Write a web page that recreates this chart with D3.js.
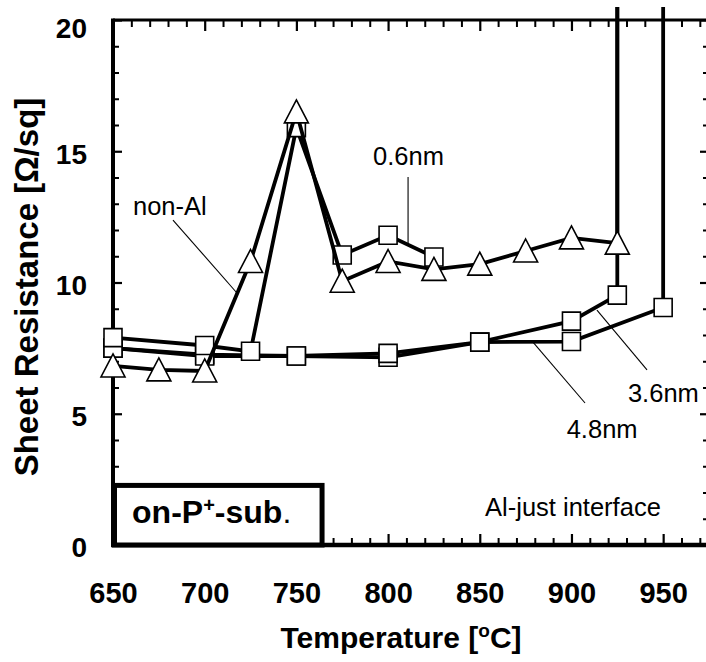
<!DOCTYPE html>
<html>
<head>
<meta charset="utf-8">
<script src="https://cdn.jsdelivr.net/npm/d3@7"></script>
<style>
  html, body { margin: 0; padding: 0; background: #fff; }
  svg { display: block; font-family: "Liberation Sans", Arial, Helvetica, sans-serif; }
</style>
</head>
<body>
<svg id="chart" width="706" height="662"></svg>
<script>
// ---------- data ----------
const xTickLabels = [650, 700, 750, 800, 850, 900, 950];
const yTickLabels = [0, 5, 10, 15, 20];

// non-Al (triangles); last point is off-scale (vertical rise)
const nonAlTemp = [650, 675, 700, 725, 750, 775, 800, 825, 850, 875, 900, 925, 925];
const nonAlRes  = [6.82, 6.67, 6.63, 10.8, 16.5, 10.05, 10.8, 10.5, 10.7, 11.2, 11.7, 11.5, 20.5];

// 0.6 nm Al (squares)
const al06Temp = [650, 700, 725, 750, 775, 800, 825];
const al06Res  = [7.9, 7.6, 7.38, 15.9, 11.05, 11.8, 10.97];

// 3.6 nm Al (squares)
const al36Temp = [650, 700, 750, 800, 850, 900, 925, 925];
const al36Res  = [7.5, 7.2, 7.2, 7.3, 7.73, 8.53, 9.52, 20.5];

// 4.8 nm Al (squares)
const al48Temp = [650, 700, 750, 800, 850, 900, 950, 950];
const al48Res  = [7.5, 7.25, 7.2, 7.15, 7.73, 7.75, 9.05, 20.5];

// ---------- layout ----------
const svg = d3.select("#chart");
const x = d3.scaleLinear().domain([650, 975]).range([113, 709]);
const y = d3.scaleLinear().domain([0, 20]).range([545, 20]);
const [x0, x1] = x.range();
const [y0, y1] = y.range();

const xMinor = d3.range(650, 976, 10).filter(v => v % 50 !== 0);
const yMinor = d3.range(0, 21, 1).filter(v => v % 5 !== 0);

function styleTicks(g, w) {
  g.select(".domain").remove();
  g.selectAll("line").attr("stroke", "#000").attr("stroke-width", w);
}

// bottom
svg.append("g").attr("transform", `translate(0,${y0})`)
  .call(d3.axisBottom(x).tickValues(xMinor).tickSize(-7).tickSizeOuter(0).tickFormat(""))
  .call(g => styleTicks(g, 2));
const bx = svg.append("g").attr("transform", `translate(0,${y0})`)
  .call(d3.axisBottom(x).tickValues(xTickLabels).tickSize(-11).tickSizeOuter(0).tickPadding(37))
  .call(g => styleTicks(g, 2.2));
bx.selectAll("text").attr("font-size", 29).attr("font-weight", "bold").attr("fill", "#000");

// top
svg.append("g").attr("transform", `translate(0,${y1})`)
  .call(d3.axisTop(x).tickValues(xMinor).tickSize(-7).tickSizeOuter(0).tickFormat(""))
  .call(g => styleTicks(g, 2));
svg.append("g").attr("transform", `translate(0,${y1})`)
  .call(d3.axisTop(x).tickValues(xTickLabels).tickSize(-11).tickSizeOuter(0).tickFormat(""))
  .call(g => styleTicks(g, 2.2));

// right
svg.append("g").attr("transform", `translate(${x1},0)`)
  .call(d3.axisRight(y).tickValues(yMinor).tickSize(-6).tickSizeOuter(0).tickFormat(""))
  .call(g => styleTicks(g, 2));
svg.append("g").attr("transform", `translate(${x1},0)`)
  .call(d3.axisRight(y).tickValues(yTickLabels).tickSize(-9).tickSizeOuter(0).tickFormat(""))
  .call(g => styleTicks(g, 2.2));

// left
svg.append("g").attr("transform", `translate(${x0},0)`)
  .call(d3.axisLeft(y).tickValues(yMinor).tickSize(-6).tickSizeOuter(0).tickFormat(""))
  .call(g => styleTicks(g, 2));
const ly = svg.append("g").attr("transform", `translate(${x0},0)`)
  .call(d3.axisLeft(y).tickValues(yTickLabels).tickSize(-9).tickSizeOuter(0).tickPadding(26))
  .call(g => styleTicks(g, 2.2));
ly.selectAll("text").attr("font-size", 28).attr("font-weight", "bold").attr("fill", "#000")
  .attr("dy", d => d === 20 ? "0.62em" : "0.42em");

// frame
svg.append("line").attr("x1", x0).attr("x2", x1).attr("y1", y1).attr("y2", y1).attr("stroke", "#000").attr("stroke-width", 3);
svg.append("line").attr("x1", x1).attr("x2", x1).attr("y1", y1).attr("y2", y0).attr("stroke", "#000").attr("stroke-width", 3);
svg.append("line").attr("x1", x0 - 2).attr("x2", x1).attr("y1", y0).attr("y2", y0).attr("stroke", "#000").attr("stroke-width", 4.5);
svg.append("line").attr("x1", x0).attr("x2", x0).attr("y1", y1 - 1.5).attr("y2", y0 + 2).attr("stroke", "#000").attr("stroke-width", 4);

// "on-P+-sub." box
const boxRight = 764, boxTop = 2.27;
svg.append("rect")
  .attr("x", x(650) + 1.5).attr("y", y(boxTop))
  .attr("width", x(boxRight) - x(650) - 1.5).attr("height", y(0) - y(boxTop))
  .attr("fill", "#fff").attr("stroke", "#000").attr("stroke-width", 5);
const boxText = svg.append("text").attr("x", x(660.4)).attr("y", y(0.84))
  .attr("font-size", 32).attr("font-weight", "bold").attr("fill", "#000");
boxText.append("tspan").text("on-P");
boxText.append("tspan").text("+").attr("font-size", 20).attr("dy", -11);
boxText.append("tspan").text("-sub").attr("dy", 11);
boxText.append("tspan").text(".").attr("font-weight", "normal");

// ---------- series ----------
const line = d3.line().x(d => x(d.t)).y(d => y(d.r));
function zip(ts, rs) { return ts.map((t, i) => ({ t, r: rs[i] })); }

const series = [
  { name: "4.8nm", data: zip(al48Temp, al48Res), marker: "square" },
  { name: "3.6nm", data: zip(al36Temp, al36Res), marker: "square" },
  { name: "0.6nm", data: zip(al06Temp, al06Res), marker: "square" },
  { name: "non-Al", data: zip(nonAlTemp, nonAlRes), marker: "triangle" }
];

const sqPath = "M-9,-9H9V9H-9Z";
const triPath = "M0,-12L12,11H-12Z";

series.forEach(s => {
  const g = svg.append("g");
  g.append("path").datum(s.data).attr("d", line)
    .attr("fill", "none").attr("stroke", "#000").attr("stroke-width", 3.8).attr("stroke-linejoin", "miter");
  g.selectAll("path.m").data(s.data.filter(d => d.r <= 20)).join("path")
    .attr("class", "m")
    .attr("transform", d => `translate(${x(d.t)},${y(d.r)})`)
    .attr("d", s.marker === "square" ? sqPath : triPath)
    .attr("fill", "#fff").attr("stroke", "#000").attr("stroke-width", 1.6);
});

// ---------- annotations ----------
const labels = [
  { text: "non-Al", t: 660.9, r: 12.57 },
  { text: "0.6nm", t: 791.8, r: 14.48 },
  { text: "3.6nm", t: 930.8, r: 5.45 },
  { text: "4.8nm", t: 897.4, r: 4.08 },
  { text: "Al-just interface", t: 852.9, r: 1.1 }
];
const leaders = [
  { t1: 682.7, r1: 12.38, t2: 717.6, r2: 9.6 },
  { t1: 810.9, r1: 14.02, t2: 810.9, r2: 11.39 },
  { t1: 913.9, r1: 8.95, t2: 941.2, r2: 6.67 },
  { t1: 879.0, r1: 7.73, t2: 907.4, r2: 5.41 }
];
svg.selectAll("line.leader").data(leaders).join("line").attr("class", "leader")
  .attr("x1", d => x(d.t1)).attr("y1", d => y(d.r1))
  .attr("x2", d => x(d.t2)).attr("y2", d => y(d.r2))
  .attr("stroke", "#000").attr("stroke-width", 1.1);
svg.selectAll("text.lbl").data(labels).join("text").attr("class", "lbl")
  .attr("x", d => x(d.t)).attr("y", d => y(d.r))
  .attr("font-size", 25.5).attr("fill", "#000").text(d => d.text);

// ---------- axis titles ----------
const xt = svg.append("text").attr("x", 401).attr("y", 648).attr("text-anchor", "middle")
  .attr("font-size", 30).attr("font-weight", "bold").attr("fill", "#000");
xt.append("tspan").text("Temperature [");
xt.append("tspan").text("o").attr("font-size", 19).attr("dy", -11);
xt.append("tspan").text("C]").attr("dy", 11);

svg.append("text").attr("transform", "translate(38,287) rotate(-90)")
  .attr("text-anchor", "middle").attr("font-size", 33).attr("font-weight", "bold").attr("fill", "#000")
  .text("Sheet Resistance [Ω/sq]");
</script>
</body>
</html>
